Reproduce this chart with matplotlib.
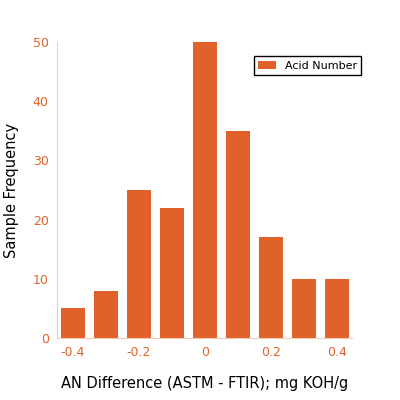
import matplotlib
matplotlib.use("Agg")
import matplotlib.pyplot as plt

centers = [-0.4, -0.3, -0.2, -0.1, 0.0, 0.1, 0.2, 0.3, 0.4]
freq = [5, 8, 25, 22, 50, 35, 17, 10, 10]
xticks = [-0.4, -0.2, 0, 0.2, 0.4]
xticklabels = ["-0.4", "-0.2", "0", "0.2", "0.4"]
yticks = [0, 10, 20, 30, 40, 50]

c = "#e0622a"
fig = plt.figure(figsize=(4, 4), dpi=100)
ax = fig.add_axes([0.1425, 0.155, 0.7375, 0.74])
ax.bar(centers, freq, width=0.073, color=c, label="Acid Number")
ax.set_xlim(-0.448, 0.445)
ax.set_ylim(0, 50)
ax.set_xticks(xticks)
ax.set_xticklabels(xticklabels)
ax.set_yticks(yticks)
ax.tick_params(colors=c, labelsize=9, length=0, pad=6)
for s in ["top", "right"]:
    ax.spines[s].set_visible(False)
for s in ["left", "bottom"]:
    ax.spines[s].set_color("#f5c8b8")
ax.set_xlabel("AN Difference (ASTM - FTIR); mg KOH/g", fontsize=10.5, labelpad=12)
ax.set_ylabel("Sample Frequency", fontsize=10.5, labelpad=10)
leg = ax.legend(loc="upper right", bbox_to_anchor=(1.05, 0.97), fontsize=8, fancybox=False,
                edgecolor="black", framealpha=1, handlelength=1.6, borderpad=0.4)
leg.get_frame().set_linewidth(1.0)
fig.savefig("out.png", dpi=100)
